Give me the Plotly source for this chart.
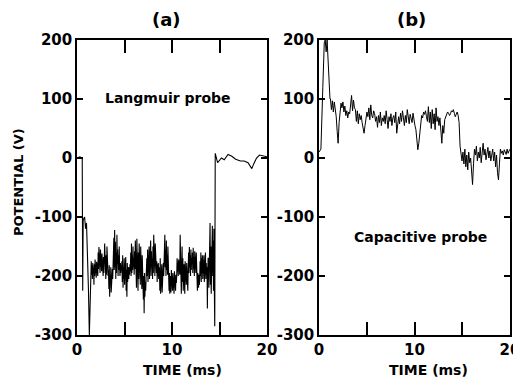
import numpy as np
import plotly.graph_objects as go

# ---------------- data ----------------
# Panel (a): Langmuir probe
A_START_T = [0.0, 0.3, 0.55, 0.6, 0.65, 0.8, 0.9, 1.0, 1.1, 1.2, 1.3, 1.4]
A_START_V = [0, 2, 0, -225, -105, -100, -120, -110, -150, -220, -300, -200]
A_NOISE_T0, A_NOISE_T1 = 1.5, 14.45
A_NOISE_V = [
    -175, -198, -182, -205, -178, -192, -186, -215, -180, -200, -172, -195, -185, -203, -176, -190, -182, -200,
    -160, -188, -151, -182, -168, -195, -155, -185, -170, -192, -162, -180,
    -175, -200, -168, -195, -172,
    -145, -190, -158, -205, -165, -198, -150, -185, -170, -200,
    -190, -222, -182, -235, -200, -215, -185, -228, -195, -210, -188, -205,
    -150, -200, -135, -190, -122, -185, -142, -205, -160, -195, -130, -180, -155, -200, -165, -190, -150, -185,
    -200, -178, -195, -182, -190,
    -175, -210, -165, -220, -185, -205, -170, -215, -180, -200, -168, -225, -190, -235, -178, -210, -185, -200,
    -205, -185, -198, -180, -192,
    -160, -200, -145, -195, -165, -190, -150, -185, -170, -198, -158, -188,
    -140, -200, -165, -220, -137, -210, -180, -225, -160, -205, -145, -195, -170, -215, -150, -200, -175, -222, -165, -205,
    -190, -240, -200, -263, -195, -235, -210, -225, -180, -200,
    -170, -200, -155, -210, -180, -195, -150, -205, -165, -190, -140, -200, -158, -185, -170, -205, -150, -195, -130, -185,
    -160, -200, -145, -190, -165,
    -195, -175, -210, -180, -200, -178, -205, -185,
    -190, -225, -170, -230, -200, -215, -180, -228, -195, -210, -178, -200,
    -150, -195, -130, -185, -155, -200, -140, -190, -165, -198, -150, -185,
    -200, -225, -195, -230, -210, -200, -228, -190, -215, -205, -225, -195, -220, -200, -230, -192, -218, -205, -225, -198,
    -212, -200,
    -170, -195, -175, -200, -172, -192, -180, -198,
    -130, -200, -160, -230, -185, -150, -210, -170, -225, -190,
    -180, -205, -230, -175, -200, -185, -215, -178, -205, -190, -225, -185,
    -160, -195, -151, -185, -165, -200, -155, -190, -170, -180, -160, -195, -152, -188, -168, -200, -158, -185, -172, -195,
    -160, -182,
    -200, -225, -195, -210, -220, -198, -215, -205,
    -175, -200, -160, -210, -170, -195, -165, -205, -180, -190, -165, -210, -172, -200, -160, -205, -178, -195, -185, -255,
    -190, -170,
    -170, -220, -130, -200, -110, -215, -150, -230, -125, -205, -115, -200, -140, -225, -120, -210,
]
A_END_T = [14.5, 14.55, 14.8, 15.2, 15.5, 15.9, 16.3, 16.7, 17.2, 17.6, 18.0, 18.4, 18.6, 18.9, 19.2, 19.6, 20.0]
A_END_V = [-285, 8, -8, 0, -3, 6, 3, -2, -5, -5, -8, -18, -10, 0, 5, 3, 2]

# Panel (b): Capacitive probe
B_START_T = [0.0, 0.2, 0.4, 0.55, 0.65, 0.75, 0.85, 0.95, 1.05, 1.15]
B_START_V = [10, 15, 120, 195, 200, 180, 200, 160, 150, 100]
B_NOISE_T0, B_NOISE_T1 = 1.2, 20.0
B_NOISE_V = [
    100, 82, 97, 78, 95, 85, 70,
    45, 25, 60, 80,
    93, 85, 95, 78, 88,
    72, 80, 68, 78, 75,
    90, 106, 80, 98, 85,
    82, 62, 80, 58, 75, 65, 72,
    60, 48, 42, 55, 68,
    78, 70, 85, 65, 90, 72, 68, 80,
    75, 62, 70, 52, 72, 60, 78, 55, 68, 62,
    72, 58, 80, 65, 50, 70, 62, 75, 55, 68,
    72, 60, 78, 42, 65, 70, 58, 76,
    62, 80, 68, 55, 72, 60, 82, 66, 58, 74,
    68, 60, 76, 62, 55, 48,
    30, 14, 25, 45,
    60, 72, 68, 78, 74, 80, 70,
    62, 87, 60, 78, 50, 82, 58, 75, 48, 85, 62, 70, 55,
    68, 40, 25, 55, 42, 65, 70,
    74, 78, 76, 72, 75, 80, 78, 82, 76, 70, 74, 78, 72, 60,
    20, 8, -5, 10,
    -10, 15, -15, 5, -20, 10, -8, 0, -30, -45,
    -10, 15, 5, 20, -5, 10, 0, 18, -8, 12, 25, 5, 15, -3, 10, 18, 0, 12, -5, 8, 15,
    -5, 10, -15, 5, -25, -37, -10,
    15, 8, 12, 5, 14, 10, 6, 15, 8, 12, 15,
]

X_TICKS = [0, 5, 10, 15, 20]
X_TICKTEXT = ["0", "", "10", "", "20"]
Y_TICKS = [-300, -200, -100, 0, 100, 200]
Y_TICKTEXT = ["-300", "-200", "-100", "0", "100", "200"]

# ---------------- build traces ----------------
a_t = A_START_T + list(np.linspace(A_NOISE_T0, A_NOISE_T1, len(A_NOISE_V))) + A_END_T
a_v = A_START_V + A_NOISE_V + A_END_V
b_t = B_START_T + list(np.linspace(B_NOISE_T0, B_NOISE_T1, len(B_NOISE_V)))
b_v = B_START_V + B_NOISE_V

FONT = "DejaVu Sans"
fig = go.Figure()
fig.add_trace(go.Scatter(x=a_t, y=a_v, mode="lines", line=dict(color="black", width=1.1),
                         xaxis="x", yaxis="y", showlegend=False))
fig.add_trace(go.Scatter(x=b_t, y=b_v, mode="lines", line=dict(color="black", width=1),
                         xaxis="x2", yaxis="y2", showlegend=False))

# page body adds an 8px offset; lay out in reference-pixel coordinates
OFF = 8
W, H = 521 - OFF, 381 - OFF
def fx(x):
    return (x - OFF) / W
def fy(y):
    return 1 - (y - OFF) / H

xcommon = dict(range=[0, 20], tickvals=X_TICKS, ticktext=X_TICKTEXT, ticks="inside",
               ticklen=13, tickwidth=1.5, tickcolor="black", showline=True, linecolor="black",
               linewidth=1.5, mirror="ticks", showgrid=False, zeroline=False, automargin=False,
               tickfont=dict(family=FONT, size=15, color="black", weight="bold"))
ycommon = dict(range=[-300, 200], tickvals=Y_TICKS, ticktext=Y_TICKTEXT, ticks="inside",
               ticklen=6, tickwidth=1.5, tickcolor="black", showline=True, linecolor="black",
               linewidth=1.5, mirror="ticks", showgrid=False, zeroline=False, automargin=False,
               tickfont=dict(family=FONT, size=15, color="black", weight="bold"))

ydom = [fy(335), fy(40)]
fig.update_layout(
    width=W, height=H, margin=dict(l=0, r=0, t=0, b=0, autoexpand=False),
    paper_bgcolor="white", plot_bgcolor="white",
    xaxis=dict(domain=[fx(77), fx(267)], anchor="y", **xcommon),
    yaxis=dict(domain=ydom, anchor="x", **ycommon),
    xaxis2=dict(domain=[fx(319), fx(510)], anchor="y2", **xcommon),
    yaxis2=dict(domain=ydom, anchor="x2", **ycommon),
)

def ann(text, x, y, size, angle=0):
    fig.add_annotation(text=text, x=fx(x), y=fy(y), xref="paper", yref="paper",
                       showarrow=False, textangle=angle, xanchor="center", yanchor="middle",
                       font=dict(family=FONT, size=size, color="black", weight="bold"))

ann("(a)", 166, 19, 18)
ann("(b)", 411, 19, 18)
ann("Langmuir probe", 168, 98, 14)
ann("Capacitive probe", 420, 237, 14)
ann("TIME (ms)", 182, 370, 14)
ann("TIME (ms)", 428, 370, 14)
ann("POTENTIAL (V)", 18, 182, 13, angle=-90)

fig.write_html("out.html")
